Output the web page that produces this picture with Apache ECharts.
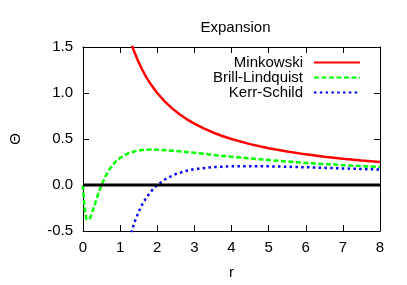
<!DOCTYPE html>
<html>
<head>
<meta charset="utf-8">
<script src="https://cdn.jsdelivr.net/npm/echarts@6/dist/echarts.min.js"></script>
<style>html,body{margin:0;padding:0;background:#fff}#c{width:407px;height:285px}</style>
</head>
<body>
<div id="c"></div>
<script>
const xTicks = [0, 1, 2, 3, 4, 5, 6, 7, 8];
const yTicks = [-0.5, 0.0, 0.5, 1.0, 1.5];

const rMink = [1.3,1.35,1.4,1.5,1.6,1.7,1.8,1.9,2,2.2,2.4,2.6,2.8,3,3.25,3.5,3.75,4,4.5,5,5.5,6,6.5,7,7.5,8];
const thetaMink = [1.538,1.481,1.429,1.333,1.25,1.176,1.111,1.053,1.0,0.909,0.833,0.769,0.714,0.667,0.615,0.571,0.533,0.5,0.444,0.4,0.364,0.333,0.308,0.286,0.267,0.25];

const rBL = [0,0.01,0.02,0.04,0.06,0.08,0.1,0.12,0.14,0.16,0.2,0.25,0.3,0.35,0.4,0.45,0.5,0.6,0.7,0.8,0.9,1.0,1.2,1.4,1.6,1.8,2.0,2.5,3,3.5,4,5,6,7,8];
const thetaBL = [0,-0.074,-0.137,-0.234,-0.301,-0.344,-0.370,-0.383,-0.385,-0.378,-0.350,-0.296,-0.234,-0.171,-0.110,-0.053,0,0.090,0.162,0.219,0.262,0.296,0.342,0.367,0.380,0.385,0.384,0.370,0.350,0.328,0.307,0.271,0.240,0.216,0.195];

const rKS = [1.3,1.35,1.4,1.5,1.6,1.7,1.8,1.9,2,2.25,2.5,2.75,3,3.5,4,4.5,5,6,7,8];
const thetaKS = [-0.520,-0.453,-0.393,-0.291,-0.208,-0.141,-0.085,-0.039,0,0.072,0.119,0.151,0.172,0.195,0.204,0.205,0.203,0.193,0.180,0.168];

const rZero = [0, 8];
const thetaZero = [0, 0];

const names = ['Minkowski', 'Brill-Lindquist', 'Kerr-Schild'];

function pairs(xs, ys) { return xs.map((x, i) => [x, ys[i]]); }

const FONT = 'Liberation Sans, Arial, Helvetica, sans-serif';
const axisCommon = {
  type: 'value',
  axisLine: { show: true, onZero: false, lineStyle: { color: '#000', width: 1 } },
  axisTick: { show: true, inside: true, length: 6, lineStyle: { color: '#000', width: 1 } },
  splitLine: { show: false }
};

const chart = echarts.init(document.getElementById('c'), null, { renderer: 'canvas' });
chart.setOption({
  animation: false,
  backgroundColor: '#fff',
  title: {
    text: 'Expansion', left: 230.5, textAlign: 'center', top: 15,
    textStyle: { fontFamily: FONT, fontSize: 15, fontWeight: 'normal', color: '#000' }
  },
  legend: {
    data: names, orient: 'vertical', align: 'right', right: 41, top: 50,
    itemWidth: 46, itemHeight: 10, itemGap: 0,
    itemStyle: { opacity: 0 },
    textStyle: { fontFamily: FONT, fontSize: 15, color: '#000', lineHeight: 15, padding: [0, 6, 0, 0] }
  },
  grid: { left: 81, right: 27, top: 47, bottom: 48, containLabel: false },
  xAxis: [
    Object.assign({}, axisCommon, {
      min: xTicks[0], max: xTicks[xTicks.length - 1], interval: 1, position: 'bottom',
      name: 'r', nameLocation: 'middle', nameGap: 34,
      nameTextStyle: { fontFamily: FONT, fontSize: 15, color: '#000' },
      axisLabel: { margin: 9, fontFamily: FONT, fontSize: 15, color: '#000' }
    }),
    Object.assign({}, axisCommon, {
      min: xTicks[0], max: xTicks[xTicks.length - 1], interval: 1, position: 'top',
      axisLabel: { show: false }
    })
  ],
  yAxis: [
    Object.assign({}, axisCommon, {
      min: yTicks[0], max: yTicks[yTicks.length - 1], interval: 0.5, position: 'left',
      name: 'Θ', nameLocation: 'middle', nameGap: 60, nameRotate: 90,
      nameTextStyle: { fontFamily: FONT, fontSize: 15, color: '#000' },
      axisLabel: { margin: 10, fontFamily: FONT, fontSize: 15, color: '#000', formatter: v => v.toFixed(1) }
    }),
    Object.assign({}, axisCommon, {
      min: yTicks[0], max: yTicks[yTicks.length - 1], interval: 0.5, position: 'right',
      axisLabel: { show: false }
    })
  ],
  series: [
    { name: names[0], type: 'line', data: pairs(rMink, thetaMink), symbol: 'none', clip: true,
      lineStyle: { color: '#ff0000', width: 2.5 }, itemStyle: { color: '#ff0000' }, z: 3 },
    { name: names[1], type: 'line', data: pairs(rBL, thetaBL), symbol: 'none', clip: true,
      lineStyle: { color: '#00ff00', width: 2.5, type: [5, 2.5] }, itemStyle: { color: '#00ff00' }, z: 3 },
    { name: names[2], type: 'line', data: pairs(rKS, thetaKS), symbol: 'none', clip: true,
      lineStyle: { color: '#0000ff', width: 2.5, type: [2.5, 3.3] }, itemStyle: { color: '#0000ff' }, z: 3 },
    { name: 'zero', type: 'line', data: pairs(rZero, thetaZero), symbol: 'none', clip: true,
      lineStyle: { color: '#000', width: 3 }, itemStyle: { color: '#000' }, z: 4, silent: true }
  ]
});
</script>
</body>
</html>
